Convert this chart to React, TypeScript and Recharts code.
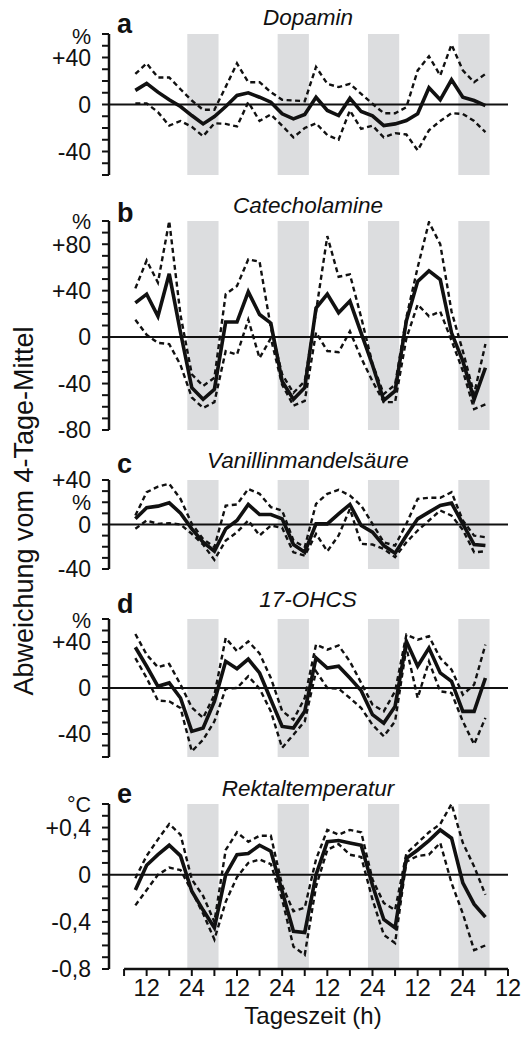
import { Line, LineChart, ReferenceArea, ReferenceLine, XAxis, YAxis } from "recharts";

const FONT = '"Liberation Sans", Arial, Helvetica, sans-serif';

// sampling times (h since start of day 1), every 3 h
const hours = [9, 12, 15, 18, 21, 24, 27, 30, 33, 36, 39, 42, 45, 48, 51, 54, 57, 60, 63, 66, 69, 72, 75, 78, 81, 84, 87, 90, 93, 96, 99, 102];

// dark (sleep) periods
const nightStarts = [22.8, 46.8, 70.8, 94.8];
const nightEnds = [31.1, 55.1, 79.1, 103.1];

const timeTicks = [6, 12, 18, 24, 30, 36, 42, 48, 54, 60, 66, 72, 78, 84, 90, 96, 102, 108];

// a: Dopamin
const dopaminMean = [12, 18, 10.5, 4, -1.7, -9.4, -16.5, -10.2, -1.7, 7.7, 9.9, 6.2, 2, -7.9, -12.2, -8.5, 6.2, -5.1, -9.4, 5.4, -6, -9.6, -17.9, -16.5, -13.6, -7.9, 14.2, 4, 21, 6.2, 3.4, -0.9];
const dopaminHigh = [26, 35, 23, 23, 13, 3.4, -4.5, -4.5, 15, 35, 19, 19, 10.5, 4, 3.4, 2.8, 32, 17.6, 14.8, 17.6, 9, 0.6, -7.4, -7.4, -2.3, 29, 41, 24.7, 51, 29, 19, 26];
const dopaminLow = [1, 1, -6.5, -18, -14, -19, -27, -16, -16.5, -18.7, 2, -14, -8.5, -18, -28, -20, -16, -26, -30, -5, -20.7, -18, -28, -24.4, -25.5, -39, -22, -14, -7.4, -8, -14, -23.5];

// b: Catecholamine
const catMean = [29.5, 37, 18, 54.5, 4, -43.6, -53.6, -45, 13, 13, 39, 19.5, 12, -38, -53.6, -43.6, 25, 37, 21, 31, 3.4, -24, -54.5, -46.4, 14, 48, 57, 49.6, 3.7, -20.6, -53.6, -26.4];
const catHigh = [42, 66, 47, 100, 19, -32, -42, -35, 37, 44, 67, 65, 8, -32, -48, -38, 22, 87, 52, 54, 17, -23, -49, -41, 17, 60, 99, 80, 22, -12, -49, -6];
const catLow = [15, 2, -5, -6, -24, -52, -61, -56, -12, -15, 15, -18, -1, -41, -59, -55, 4, -12, -13, 5, -18, -38, -56, -56, -1, 28, 18, 22, -3, -29, -62, -58];

// c: Vanillinmandelsäure
const vmaMean = [5.1, 15, 16.5, 19.5, 10.2, -3.9, -15.9, -24, -3.9, 3.6, 18, 9, 9, 5.1, -18, -24.9, 0.6, 0.6, 9.6, 18, -0.9, -6.9, -18.9, -25.8, -9.9, 5.1, 11.1, 17.1, 19.2, 0.6, -18, -18.9];
const vmaHigh = [8, 29, 34, 36.6, 23, 0.6, -13, -20.4, 17, 18, 32, 27.6, 15.6, 12.6, -14.4, -20.4, 18.6, 27.6, 31.2, 26, 17, 0.6, -16, -19, 0.6, 23, 24, 24, 29, 3.6, -10, -11.4];
const vmaLow = [-3.9, 3.6, 0.6, 1.2, 0, -8.4, -18, -31.8, -14.4, -6.9, 3.6, -9.9, -0.9, -3, -25, -28, -8.4, -24, -9.9, 14, -17.4, -18, -22, -29.4, -16, -5.4, 3.6, 12.6, 8, -4.8, -25, -24];

// d: 17-OHCS
const ohcsMean = [35.4, 18.9, 1.5, 4.4, -8.7, -37.7, -34.8, -11.6, 23.2, 16.8, 25.2, 13.1, -10.2, -33.4, -34.8, -20.3, 26.1, 17.4, 18.9, 8.7, -2.3, -23.2, -30.5, -16, 40.6, 18.9, 34.8, 13.1, 5.8, -20.3, -20.3, 8.7];
const ohcsHigh = [47, 29, 18, 21, 3, -17, -26, -6, 43.5, 32, 40.6, 30, 8.7, -20, -27.6, -8.7, 37.7, 33.4, 37, 23, 4.4, -14.5, -20.3, -2.9, 46.4, 42, 45, 26, 16, -5.8, 2.9, 37.7];
const ohcsLow = [26, 8.7, -11, -11.6, -17.4, -55, -45, -29, -0.6, 0, 10.2, -0.6, -20.3, -52, -40.6, -29, 14.5, 0, -0.6, -8.7, -17.4, -32, -42, -29, 35, -8.7, 23, -2.9, -4.4, -29, -49, -26];

// e: Rektaltemperatur (°C)
const tempMean = [-0.13, 0.08, 0.17, 0.25, 0.16, -0.14, -0.3, -0.45, 0, 0.17, 0.18, 0.25, 0.2, -0.14, -0.48, -0.49, 0, 0.28, 0.29, 0.27, 0.25, -0.09, -0.38, -0.45, 0.14, 0.21, 0.29, 0.38, 0.31, -0.07, -0.25, -0.36];
const tempHigh = [-0.03, 0.16, 0.3, 0.43, 0.34, -0.04, -0.18, -0.4, 0.21, 0.36, 0.28, 0.33, 0.33, -0.09, -0.31, -0.28, 0.13, 0.38, 0.34, 0.38, 0.36, -0.04, -0.24, -0.3, 0.18, 0.27, 0.36, 0.43, 0.6, 0.27, 0.07, -0.17];
const tempLow = [-0.26, -0.13, 0, 0.06, 0.04, -0.14, -0.33, -0.55, -0.23, -0.02, 0.1, 0.13, 0.09, -0.21, -0.61, -0.68, -0.1, 0.21, 0.26, 0.17, 0.15, -0.21, -0.51, -0.58, 0.11, 0.16, 0.17, 0.27, -0.07, -0.33, -0.64, -0.6];

// y ticks (minor every 10 % / 0.1 °C) and their labels
const ticks60 = [-60, -50, -40, -30, -20, -10, 0, 10, 20, 30, 40, 50, 60];
const ticksCat = [-80, -70, -60, -50, -40, -30, -20, -10, 0, 10, 20, 30, 40, 50, 60, 70, 80, 90, 100];
const ticks40 = [-40, -30, -20, -10, 0, 10, 20, 30, 40];
const ticksTemp = [-0.8, -0.7, -0.6, -0.5, -0.4, -0.3, -0.2, -0.1, 0, 0.1, 0.2, 0.3, 0.4, 0.5, 0.6];

const labels60: [number, string][] = [[60, "%"], [40, "+40"], [0, "0"], [-40, "-40"]];
const labelsCat: [number, string][] = [[100, "%"], [80, "+80"], [40, "+40"], [0, "0"], [-40, "-40"], [-80, "-80"]];
const labels40: [number, string][] = [[40, "+40"], [20, "%"], [0, "0"], [-40, "-40"]];
const labelsTemp: [number, string][] = [[0.6, "°C"], [0.4, "+0,4"], [0, "0"], [-0.4, "-0,4"], [-0.8, "-0,8"]];

function buildRows(mean: number[], high: number[], low: number[]) {
  return hours.map((h, i) => ({ h, mean: mean[i], high: high[i], low: low[i] }));
}

function timeLabel(h: number) {
  if (h % 24 === 12) return "12";
  if (h % 24 === 0) return "24";
  return "";
}

function YTick(props: any) {
  const { x, y, payload, labels, unitValue, unitDy } = props;
  const hit = (labels as [number, string][]).find((l) => l[0] === payload.value);
  if (!hit) return <g />;
  const isUnit = hit[0] === unitValue;
  return (
    <text x={x} y={y + (isUnit ? unitDy : 0)} dy="0.36em" textAnchor="end" fontSize={isUnit ? 21.5 : 23} fontFamily={FONT} fill="#111">
      {hit[1]}
    </text>
  );
}

type PanelProps = {
  rows: { h: number; mean: number; high: number; low: number }[];
  domain: [number, number];
  ticks: number[];
  labels: [number, string][];
  unitDy: number;
  plotTop: number;
  plotHeight: number;
  timeAxis?: boolean;
};

function Panel({ rows, domain, ticks, labels, unitDy, plotTop, plotHeight, timeAxis }: PanelProps) {
  const top = 14;
  const bottom = timeAxis ? 0 : 16;
  const axisH = timeAxis ? 40 : 0;
  const unitValue = labels.find((l) => /[%C]/.test(l[1]))?.[0];
  return (
    <div style={{ position: "absolute", left: 0, top: plotTop - top }}>
      <LineChart width={529} height={top + plotHeight + bottom + axisH} data={rows} margin={{ top, right: 21, bottom, left: 0 }}>
        {nightStarts.map((s, i) => (
          <ReferenceArea key={s} x1={s} x2={nightEnds[i]} fill="#dcdddf" fillOpacity={1} stroke="none" ifOverflow="hidden" />
        ))}
        {timeAxis ? (
          <XAxis
            type="number"
            dataKey="h"
            domain={[2, 108]}
            allowDataOverflow
            ticks={timeTicks}
            interval={0}
            tickFormatter={timeLabel}
            axisLine={false}
            tickLine={{ stroke: "#111", strokeWidth: 2 }}
            tickSize={7}
            tickMargin={3}
            height={axisH}
            tick={{ fill: "#111", fontSize: 23.5, fontFamily: FONT }}
          />
        ) : (
          <XAxis type="number" dataKey="h" domain={[2, 108]} allowDataOverflow hide />
        )}
        <YAxis
          type="number"
          domain={domain}
          allowDataOverflow
          ticks={ticks}
          interval={0}
          width={109}
          axisLine={{ stroke: "#111", strokeWidth: 2.5 }}
          tickLine={{ stroke: "#111", strokeWidth: 2 }}
          tickSize={7}
          tickMargin={11}
          tick={(p: any) => <YTick {...p} labels={labels} unitValue={unitValue} unitDy={unitDy} />}
        />
        <ReferenceLine y={0} stroke="#111" strokeWidth={2} />
        {timeAxis && (
          <ReferenceLine segment={[{ x: 6, y: domain[0] }, { x: 108, y: domain[0] }]} stroke="#111" strokeWidth={2.5} ifOverflow="visible" />
        )}
        <Line type="linear" dataKey="high" stroke="#111" strokeWidth={2.4} strokeDasharray="5 3.5" dot={false} isAnimationActive={false} />
        <Line type="linear" dataKey="low" stroke="#111" strokeWidth={2.4} strokeDasharray="5 3.5" dot={false} isAnimationActive={false} />
        <Line type="linear" dataKey="mean" stroke="#111" strokeWidth={3.6} dot={false} isAnimationActive={false} />
      </LineChart>
    </div>
  );
}

const panelTitles = [
  { letter: "a", title: "Dopamin", letterY: 33, titleY: 25 },
  { letter: "b", title: "Catecholamine", letterY: 222, titleY: 213 },
  { letter: "c", title: "Vanillinmandelsäure", letterY: 473, titleY: 468 },
  { letter: "d", title: "17-OHCS", letterY: 613, titleY: 607 },
  { letter: "e", title: "Rektaltemperatur", letterY: 803, titleY: 796 },
];

export default function App() {
  return (
    <div style={{ position: "absolute", left: 0, top: 0, width: 529, height: 1037, background: "#fff", overflow: "hidden" }}>
      <Panel rows={buildRows(dopaminMean, dopaminHigh, dopaminLow)} domain={[-60, 60]} ticks={ticks60} labels={labels60} unitDy={2} plotTop={34} plotHeight={141} />
      <Panel rows={buildRows(catMean, catHigh, catLow)} domain={[-80, 100]} ticks={ticksCat} labels={labelsCat} unitDy={0} plotTop={221} plotHeight={209} />
      <Panel rows={buildRows(vmaMean, vmaHigh, vmaLow)} domain={[-40, 40]} ticks={ticks40} labels={labels40} unitDy={0} plotTop={480} plotHeight={89} />
      <Panel rows={buildRows(ohcsMean, ohcsHigh, ohcsLow)} domain={[-60, 60]} ticks={ticks60} labels={labels60} unitDy={1} plotTop={619} plotHeight={138} />
      <Panel rows={buildRows(tempMean, tempHigh, tempLow)} domain={[-0.8, 0.6]} ticks={ticksTemp} labels={labelsTemp} unitDy={0} plotTop={804} plotHeight={165} timeAxis />
      <svg width={529} height={1037} style={{ position: "absolute", left: 0, top: 0, pointerEvents: "none" }} fontFamily={FONT}>
        {panelTitles.map((p) => (
          <g key={p.letter}>
            <text x={117} y={p.letterY} fontSize={27} fontWeight="bold" fill="#111">
              {p.letter}
            </text>
            <text x={308} y={p.titleY} fontSize={22.5} fontStyle="italic" textAnchor="middle" fill="#111">
              {p.title}
            </text>
          </g>
        ))}
        <text transform="translate(33, 511) rotate(-90)" fontSize={27} textAnchor="middle" fill="#111">
          Abweichung vom 4-Tage-Mittel
        </text>
        <text x={313} y={1024} fontSize={24} textAnchor="middle" fill="#111">
          Tageszeit (h)
        </text>
      </svg>
    </div>
  );
}
